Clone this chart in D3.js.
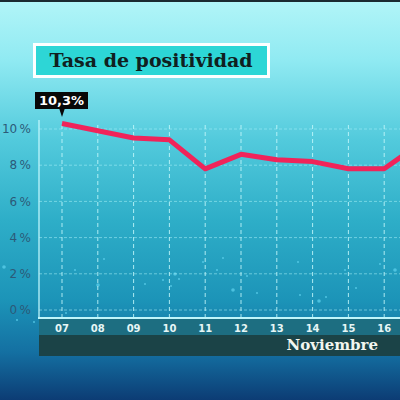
<!DOCTYPE html>
<html>
<head>
<meta charset="utf-8">
<script src="https://cdn.jsdelivr.net/npm/d3@7"></script>
<style>
  html, body { margin: 0; padding: 0; background: #0d3c74; }
  svg { display: block; }
</style>
</head>
<body>
<svg width="400" height="400"></svg>
<script>
const days = ["07", "08", "09", "10", "11", "12", "13", "14", "15", "16", "17"];
const positivity = [10.3, 9.9, 9.5, 9.4, 7.8, 8.6, 8.3, 8.2, 7.8, 7.8, 9.2];
const yTicks = [0, 2, 4, 6, 8, 10];
const monthLabel = "Noviembre";
const title = "Tasa de positividad";
const firstLabel = "10,3%";

// decorative particles (fixed positions)
const dotsX = [4, 17, 34, 75, 66, 98, 104, 145, 163, 171, 175, 179, 203, 217, 223, 233, 247, 257, 298, 300, 319, 326, 345, 356, 380, 395];
const dotsY = [267, 320, 322, 270, 313, 285, 259, 284, 280, 286, 274, 279, 262, 270, 258, 290, 276, 293, 262, 295, 301, 297, 270, 288, 264, 270];

const width = 400, height = 400;
const svg = d3.select("svg");

// background gradient
const defs = svg.append("defs");
const grad = defs.append("linearGradient")
    .attr("id", "bg").attr("x1", 0).attr("y1", 0).attr("x2", 0).attr("y2", 1);
[[0, "#b2f5f8"], [0.15, "#90eaf2"], [0.35, "#52cadc"], [0.55, "#2eaec8"],
 [0.75, "#1c94b8"], [0.88, "#1470a2"], [1, "#0c3c74"]].forEach(s =>
    grad.append("stop").attr("offset", s[0]).attr("stop-color", s[1]));

svg.append("rect").attr("width", width).attr("height", height).attr("fill", "url(#bg)");
svg.append("rect").attr("width", width).attr("height", 2).attr("fill", "#1a2a30");

// scales
const x = d3.scalePoint().domain(days).range([62, 420]);
const y = d3.scaleLinear().domain([0, 10]).range([310, 129]);

const plotLeft = 39, axisY = 318;
const visibleDays = days.filter(d => x(d) < width);

// particles
svg.append("g").selectAll("circle")
    .data(dotsX)
    .join("circle")
    .attr("cx", d => d)
    .attr("cy", (d, i) => dotsY[i])
    .attr("r", (d, i) => i % 5 === 0 ? 1.8 : 1.1)
    .attr("fill", "#5fd3f0")
    .attr("opacity", 0.7);

// horizontal grid
svg.append("g")
    .selectAll("line")
    .data(yTicks)
    .join("line")
    .attr("x1", plotLeft).attr("x2", width)
    .attr("y1", d => y(d)).attr("y2", d => y(d))
    .attr("stroke", "#a8f0f8").attr("stroke-opacity", 0.55)
    .attr("stroke-width", 1)
    .attr("stroke-dasharray", "3,2");

// vertical grid
svg.append("g")
    .selectAll("line")
    .data(visibleDays)
    .join("line")
    .attr("x1", d => x(d)).attr("x2", d => x(d))
    .attr("y1", 125).attr("y2", axisY)
    .attr("stroke", "#c4f8fc").attr("stroke-opacity", 0.85)
    .attr("stroke-width", 1)
    .attr("stroke-dasharray", "4,3");

// y axis line
svg.append("line")
    .attr("x1", plotLeft).attr("x2", plotLeft)
    .attr("y1", 120).attr("y2", axisY)
    .attr("stroke", "#c0f6fb").attr("stroke-opacity", 0.85).attr("stroke-width", 1.5);

// y tick labels
svg.append("g")
    .selectAll("text")
    .data(yTicks)
    .join("text")
    .attr("x", 31)
    .attr("y", d => y(d))
    .attr("dy", "0.35em")
    .attr("text-anchor", "end")
    .attr("fill", "#2c5a78")
    .style("font-family", "'DejaVu Sans', sans-serif")
    .style("font-size", "12px")
    .text(d => d + "\u2009%");

// x axis bands
svg.append("rect")
    .attr("x", plotLeft).attr("y", axisY + 1)
    .attr("width", width - plotLeft).attr("height", 16)
    .attr("fill", "#1e6b7c").attr("opacity", 0.9);
svg.append("rect")
    .attr("x", plotLeft).attr("y", axisY + 17)
    .attr("width", width - plotLeft).attr("height", 21)
    .attr("fill", "#1b4347");
svg.append("line")
    .attr("x1", plotLeft - 1).attr("x2", width)
    .attr("y1", axisY).attr("y2", axisY)
    .attr("stroke", "#bff6fb").attr("stroke-width", 2);

// x tick labels
svg.append("g")
    .selectAll("text")
    .data(visibleDays)
    .join("text")
    .attr("x", d => x(d))
    .attr("y", axisY + 10)
    .attr("dy", "0.35em")
    .attr("text-anchor", "middle")
    .attr("fill", "#e6f6f6")
    .style("font-family", "'DejaVu Sans', sans-serif")
    .style("font-weight", "bold")
    .style("font-size", "10px")
    .text(d => d);

svg.append("text")
    .attr("x", 378).attr("y", 345)
    .attr("dy", "0.35em")
    .attr("text-anchor", "end")
    .attr("fill", "#f2f6f0")
    .style("font-family", "'DejaVu Serif', serif")
    .style("font-weight", "bold")
    .style("font-size", "15px")
    .text(monthLabel);

// line
const line = d3.line()
    .x((d, i) => x(days[i]))
    .y(d => y(d));

svg.append("path")
    .datum(positivity)
    .attr("d", line)
    .attr("fill", "none")
    .attr("stroke", "#f0245a")
    .attr("stroke-width", 5)
    .attr("stroke-linejoin", "round");

// first value callout
const cx = x(days[0]);
const callout = svg.append("g");
callout.append("rect")
    .attr("x", 35).attr("y", 92)
    .attr("width", 53).attr("height", 17)
    .attr("fill", "#080808");
callout.append("path")
    .attr("d", `M${cx - 3},108 L${cx + 3},108 L${cx},117 Z`)
    .attr("fill", "#080808");
callout.append("text")
    .attr("x", 61.5).attr("y", 100.5)
    .attr("dy", "0.36em")
    .attr("text-anchor", "middle")
    .attr("fill", "#ffffff")
    .style("font-family", "'DejaVu Sans', sans-serif")
    .style("font-weight", "bold")
    .style("font-size", "13px")
    .text(firstLabel);

// title box
const titleG = svg.append("g");
titleG.append("rect")
    .attr("x", 34.5).attr("y", 44.5)
    .attr("width", 234).attr("height", 32)
    .attr("fill", "#2dd6d6")
    .attr("stroke", "#ffffff").attr("stroke-width", 3);
titleG.append("text")
    .attr("x", 151).attr("y", 60.5)
    .attr("dy", "0.36em")
    .attr("text-anchor", "middle")
    .attr("fill", "#102020")
    .style("font-family", "'DejaVu Serif', serif")
    .style("font-weight", "bold")
    .style("font-size", "19px")
    .text(title);
</script>
</body>
</html>
